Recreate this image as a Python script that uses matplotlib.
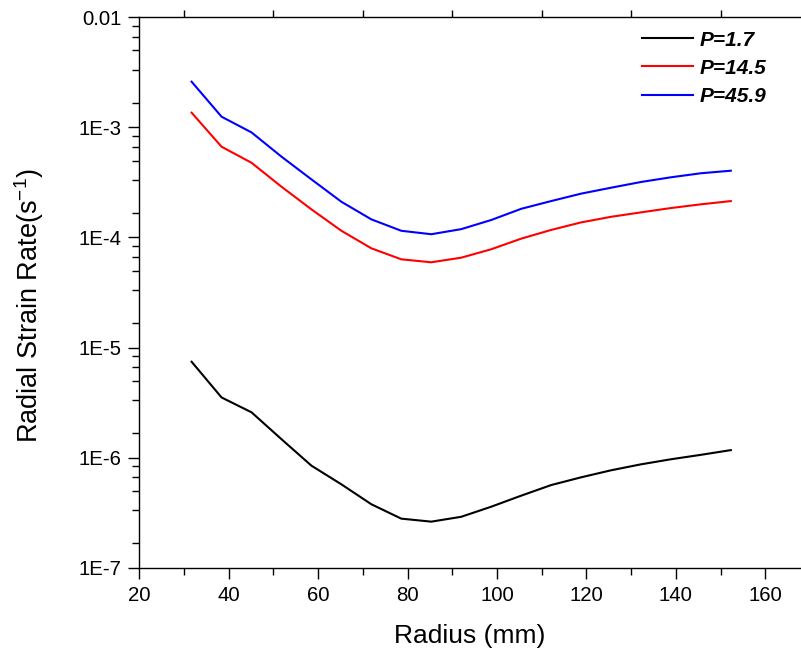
import numpy as np
import matplotlib
matplotlib.use("Agg")
import matplotlib.pyplot as plt
from matplotlib.ticker import FixedLocator, FixedFormatter, MultipleLocator

plt.rcParams['font.family'] = ['Liberation Sans', 'DejaVu Sans']
plt.rcParams['mathtext.default'] = 'regular'

# radius (mm)
radius = [31.7, 38.4, 45.1, 51.8, 58.5, 65.2, 71.9, 78.6, 85.3, 92.0,
          98.7, 105.4, 112.1, 118.8, 125.5, 132.2, 138.9, 145.6, 152.3]

# radial strain rate (1/s)
rate_p1_7 = [7.43e-6, 3.52e-6, 2.58e-6, 1.47e-6, 8.45e-7, 5.72e-7, 3.77e-7,
             2.79e-7, 2.62e-7, 2.90e-7, 3.58e-7, 4.51e-7, 5.63e-7, 6.62e-7,
             7.67e-7, 8.69e-7, 9.66e-7, 1.06e-6, 1.17e-6]
rate_p14_5 = [1.36e-3, 6.67e-4, 4.77e-4, 2.89e-4, 1.80e-4, 1.15e-4, 7.97e-5,
              6.33e-5, 5.95e-5, 6.55e-5, 7.81e-5, 9.75e-5, 1.17e-4, 1.37e-4,
              1.54e-4, 1.69e-4, 1.85e-4, 2.00e-4, 2.14e-4]
rate_p45_9 = [2.60e-3, 1.25e-3, 9.0e-4, 5.42e-4, 3.37e-4, 2.11e-4, 1.46e-4,
              1.15e-4, 1.07e-4, 1.19e-4, 1.44e-4, 1.82e-4, 2.14e-4, 2.50e-4,
              2.83e-4, 3.19e-4, 3.52e-4, 3.83e-4, 4.04e-4]

series_labels = ["P=1.7", "P=14.5", "P=45.9"]
y_ticks = [1e-7, 1e-6, 1e-5, 1e-4, 1e-3, 1e-2]
y_tick_labels = ["1E-7", "1E-6", "1E-5", "1E-4", "1E-3", "0.01"]

fig = plt.figure(figsize=(8.01, 6.6), dpi=100)
ax = fig.add_axes([139.3 / 801, 1 - 567.7 / 660, (801 - 139.3) / 801, (567.7 - 17.3) / 660])

ax.plot(radius, rate_p1_7, color='black', lw=1.5, label=series_labels[0])
ax.plot(radius, rate_p14_5, color='red', lw=1.5, label=series_labels[1])
ax.plot(radius, rate_p45_9, color='blue', lw=1.5, label=series_labels[2])

ax.set_yscale('log')
ax.set_ylim(1e-7, 1e-2)
ax.set_xlim(20, 168)

ax.yaxis.set_major_locator(FixedLocator(y_ticks))
ax.yaxis.set_major_formatter(FixedFormatter(y_tick_labels))
# origin-style minor ticks: 5 per decade, linear split of 0..10^(n+1)
minor = [10.0 ** (n + 1) * i / 6 for n in range(-7, -2) for i in range(1, 6)]
ax.yaxis.set_minor_locator(FixedLocator(minor))
ax.yaxis.set_minor_formatter(FixedFormatter([""] * len(minor)))

ax.xaxis.set_major_locator(MultipleLocator(20))
ax.xaxis.set_minor_locator(MultipleLocator(10))

ax.spines['right'].set_visible(False)
for s in ['left', 'bottom', 'top']:
    ax.spines[s].set_linewidth(1.0)

ax.tick_params(axis='both', which='major', direction='out', length=8, width=1,
               labelsize=14.7, pad=5)
ax.tick_params(axis='both', which='minor', direction='out', length=5, width=1)
ax.tick_params(axis='x', which='both', top=True)
ax.tick_params(axis='x', which='major', top=False)

ax.set_xlabel("Radius (mm)", fontsize=19)
ax.set_ylabel("Radial Strain Rate(s$^{-1}$)", fontsize=19.5)
ax.xaxis.set_label_coords(0.5, -0.102)
ax.yaxis.set_label_coords(-0.141, 0.477)

leg = ax.legend(loc='upper left', bbox_to_anchor=(0.759, 0.976), frameon=False,
                borderpad=0, borderaxespad=0, handlelength=2.45,
                handletextpad=0.35, labelspacing=0.44,
                prop={'size': 15, 'weight': 'bold', 'style': 'italic'})

fig.savefig("out.png", dpi=100)
